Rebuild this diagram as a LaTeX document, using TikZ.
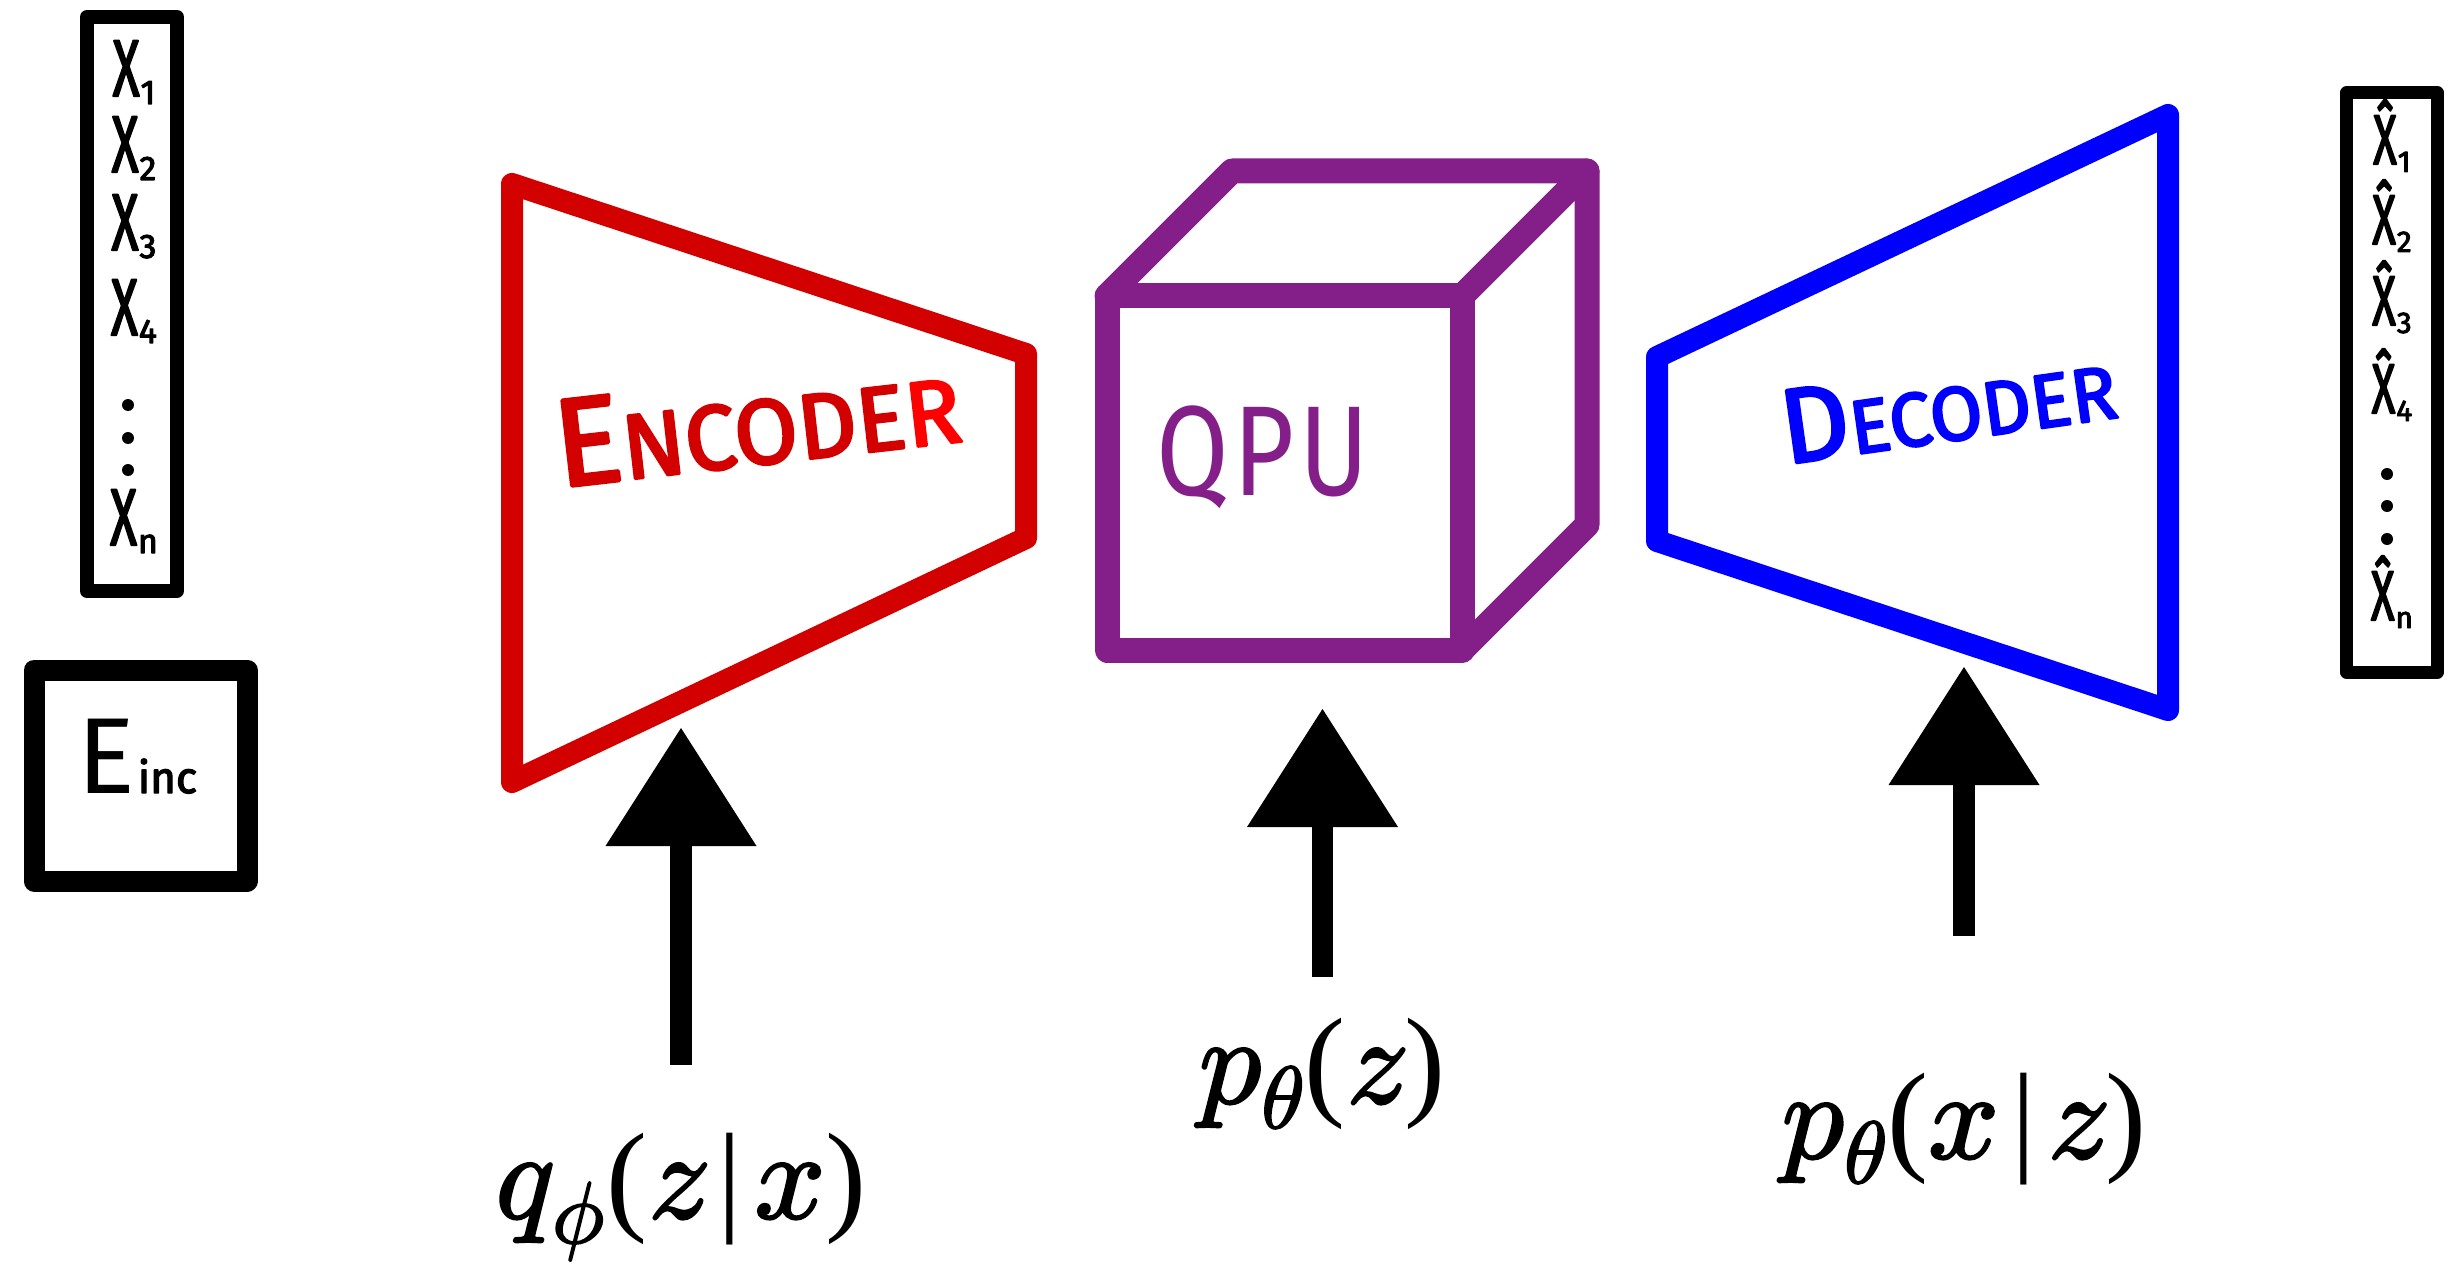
\documentclass[tikz,border=0pt]{standalone}
\usepackage{fontspec}
\setmainfont{Liberation Serif}
\newfontfamily\tms{Liberation Serif}
\newfontfamily\lmm{latinmodern-math.otf}[FakeBold=2]
\newfontfamily\hand{Fira Sans}
\newfontfamily\handsb{Fira Sans}[FakeBold=3]
\usetikzlibrary{calc}
\definecolor{encred}{RGB}{211,0,0}
\definecolor{brightred}{RGB}{255,0,0}
\definecolor{decblue}{RGB}{0,0,255}
\definecolor{qpurple}{RGB}{132,31,137}
\newcommand\fsz[1]{\fontsize{#1pt}{#1pt}\selectfont}
\newcommand\mi[1]{{\lmm\fsz{124}#1}}
\newcommand\ms[1]{\raisebox{-25pt}{\lmm\fsz{88}#1}}
\newcommand\xsub[1]{\scalebox{0.62}[1]{X}\kern1pt\raisebox{-8pt}{\fsz{34}#1}}
\newcommand\xhsub[1]{\scalebox{0.62}[1]{\^X}\kern1pt\raisebox{-8pt}{\fsz{30}#1}}
\newcommand\upbigarrow[3]{%
  \draw[line width=#3, line cap=butt] (#2) -- ([yshift=-112pt]#1);
  \fill (#1) -- ([shift={(-75.5pt,-118pt)}]#1) -- ([shift={(75.5pt,-118pt)}]#1) -- cycle;}
\begin{document}
\begin{tikzpicture}[x=1pt,y=-1pt,line join=round,line cap=round,
  encline/.style={draw=encred,line width=22pt},
  decline/.style={draw=decblue,line width=22pt},
  cubeline/.style={draw=qpurple,line width=25pt},
  leftx/.style={font=\handsb\fsz{80},anchor=base,inner sep=0pt},
  rightx/.style={font=\handsb\fsz{70},anchor=base,inner sep=0pt},
  mathlab/.style={font=\tms\fsz{123},anchor=base,inner sep=0pt}]
\useasboundingbox (0,0) rectangle (2453,1265);

% ---------- input column ----------
\node[draw,line width=14pt,minimum width=90pt,minimum height=574pt,inner sep=0pt] (xin) at (132,304) {};
\node[leftx] (x1) at (134,96) {\xsub{1}};
\node[leftx] (x2) at (134,172) {\xsub{2}};
\node[leftx] (x3) at (134,250) {\xsub{3}};
\node[leftx] (x4) at (134,335) {\xsub{4}};
\fill (128,405) circle (6pt) (128,438) circle (6pt) (128,470) circle (6pt);
\node[leftx] (xn) at (134,545) {\xsub{n}};

% ---------- E_inc box ----------
\node[draw,line width=21pt,minimum width=213pt,minimum height=211pt,inner sep=0pt] (einc) at (140.5,775.5) {};
\node[anchor=base,inner sep=0pt,font=\hand] (einctext) at (137.5,793) {\fsz{108}E\kern2pt{\handsb\fsz{44}inc}};

% ---------- output column ----------
\node[draw,line width=13pt,minimum width=91pt,minimum height=579pt,inner sep=0pt] (xout) at (2392,382.5) {};
\node[rightx] (y1) at (2392,164) {\xhsub{1}};
\node[rightx] (y2) at (2392,244) {\xhsub{2}};
\node[rightx] (y3) at (2392,325) {\xhsub{3}};
\node[rightx] (y4) at (2392,413) {\xhsub{4}};
\fill (2387,474) circle (6pt) (2387,506) circle (6pt) (2387,539) circle (6pt);
\node[rightx] (yn) at (2392,620) {\xhsub{n}};

% ---------- encoder ----------
\coordinate (eTL) at (512,184);
\coordinate (eTR) at (1026,354);
\coordinate (eBR) at (1026,538);
\coordinate (eBL) at (512,782);
\draw[encline] (eTL) -- (eTR) -- (eBR) -- (eBL) -- cycle;
\node[rotate=6.5,inner sep=0pt,text=encred,font=\handsb] (enctext) at (757,422)
  {{\fsz{125}E}{\fsz{92}NCODE}{\fsz{92}\color{brightred}R}};

% ---------- QPU cube ----------
\coordinate (fTL) at (1107,296);
\coordinate (fTR) at (1462,296);
\coordinate (fBR) at (1462,650);
\coordinate (fBL) at (1107,650);
\coordinate (bTL) at (1232,171);
\coordinate (bTR) at (1587,171);
\coordinate (bBR) at (1587,525);
\draw[cubeline] (fTL) -- (fTR) -- (fBR) -- (fBL) -- cycle;
\draw[cubeline] (fTL) -- (bTL) -- (bTR) -- (bBR) -- (fBR);
\draw[cubeline] (fTR) -- (bTR);
\node[anchor=base,inner sep=0pt,text=qpurple,font=\hand\fsz{128}] (qputext) at (1263,495) {\scalebox{0.82}[1]{Q\kern6pt P\kern6pt U}};

% ---------- decoder ----------
\coordinate (dTL) at (1657,357);
\coordinate (dTR) at (2168,115);
\coordinate (dBR) at (2168,710);
\coordinate (dBL) at (1657,541);
\draw[decline] (dTL) -- (dTR) -- (dBR) -- (dBL) -- cycle;
\node[rotate=8,inner sep=0pt,text=decblue,font=\handsb] (dectext) at (1948,405)
  {{\fsz{106}D}{\fsz{76}ECODER}};

% ---------- arrows ----------
\coordinate (encTip) at (681,728);
\coordinate (encEnd) at (681,1065);
\coordinate (qpuTip) at (1322.5,709);
\coordinate (qpuEnd) at (1322.5,977);
\coordinate (decTip) at (1964,667);
\coordinate (decEnd) at (1964,936);
\upbigarrow{encTip}{encEnd}{22pt}
\upbigarrow{qpuTip}{qpuEnd}{21pt}
\upbigarrow{decTip}{decEnd}{22pt}

% ---------- labels ----------
\node[mathlab] (qlab) at (681,1218)
  {\mi{𝑞}\kern1pt\ms{𝜙}\kern2pt(\kern1pt\mi{𝑧}\hspace{12pt}|\hspace{12pt}\mi{𝑥})};
\node[mathlab] (plab) at (1322,1103)
  {\mi{𝑝}\ms{𝜃}\kern2pt(\kern1pt\mi{𝑧})};
\node[mathlab] (pxlab) at (1964,1158)
  {\mi{𝑝}\ms{𝜃}\kern2pt(\mi{𝑥}\hspace{12pt}|\hspace{12pt}\mi{𝑧})};
\end{tikzpicture}
\end{document}
